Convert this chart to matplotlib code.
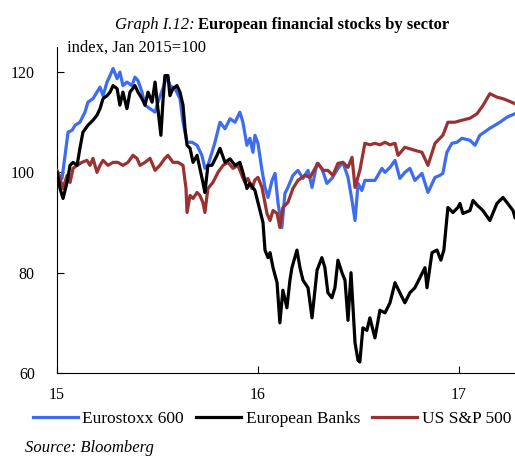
import matplotlib
matplotlib.use('Agg')
from matplotlib import pyplot as plt

plt.rcParams['font.family'] = ['Liberation Serif', 'DejaVu Serif']

# x in years (15 = Jan 2015), values index Jan 2015 = 100
euro_x = [15.000, 15.025, 15.040, 15.055, 15.075, 15.090, 15.114, 15.139, 15.154, 15.179,
          15.199, 15.214, 15.229, 15.249, 15.264, 15.279, 15.299, 15.313, 15.328, 15.348,
          15.373, 15.388, 15.403, 15.423, 15.438, 15.463, 15.488, 15.502, 15.527, 15.547,
          15.562, 15.587, 15.612, 15.627, 15.647, 15.672, 15.697, 15.721, 15.736, 15.751,
          15.771, 15.786, 15.811, 15.836, 15.861, 15.886, 15.910, 15.925, 15.945, 15.960,
          15.975, 15.985, 16.000, 16.020, 16.035, 16.050, 16.070, 16.085, 16.100, 16.119,
          16.134, 16.149, 16.174, 16.199, 16.224, 16.249, 16.269, 16.294, 16.318, 16.343,
          16.368, 16.398, 16.423, 16.448, 16.468, 16.483, 16.498, 16.517, 16.532, 16.557,
          16.582, 16.617, 16.632, 16.657, 16.682, 16.706, 16.731, 16.756, 16.781, 16.816,
          16.846, 16.881, 16.905, 16.920, 16.940, 16.965, 16.990, 17.015, 17.055, 17.080,
          17.104, 17.154, 17.204, 17.239, 17.279]
euro_y = [100.0, 98.8, 103.4, 108.0, 108.4, 109.4, 110.0, 112.0, 114.0, 114.7,
          116.0, 117.0, 115.3, 118.0, 119.3, 120.7, 118.7, 120.0, 117.3, 118.0,
          117.3, 119.0, 118.3, 116.0, 113.4, 112.7, 112.0, 114.0, 116.7, 119.3,
          117.3, 116.7, 114.7, 110.0, 106.0, 106.0, 105.4, 103.4, 100.8, 101.4,
          104.0, 106.0, 110.0, 108.7, 110.7, 110.0, 112.0, 110.0, 105.4, 106.8,
          104.0, 107.4, 105.8, 100.4, 97.0, 95.0, 98.4, 99.8, 93.8, 89.0,
          95.8, 97.0, 99.4, 100.4, 98.8, 100.4, 97.0, 101.8, 100.8, 97.8,
          98.8, 100.8, 102.0, 99.0, 94.4, 90.4, 97.8, 96.4, 98.4, 98.4,
          98.4, 100.8, 100.0, 101.0, 102.4, 98.8, 100.0, 100.8, 98.4, 99.8,
          96.0, 99.0, 99.4, 99.8, 104.0, 105.8, 106.0, 106.8, 106.4, 105.4,
          107.4, 108.8, 110.0, 111.0, 111.7]

banks_x = [15.000, 15.015, 15.030, 15.050, 15.065, 15.080, 15.100, 15.114, 15.129, 15.154,
           15.179, 15.199, 15.214, 15.229, 15.249, 15.264, 15.279, 15.299, 15.313, 15.328,
           15.348, 15.363, 15.388, 15.403, 15.423, 15.438, 15.453, 15.473, 15.488, 15.502,
           15.517, 15.527, 15.537, 15.552, 15.562, 15.577, 15.597, 15.612, 15.627, 15.637,
           15.647, 15.662, 15.677, 15.697, 15.711, 15.726, 15.736, 15.751, 15.771, 15.796,
           15.811, 15.836, 15.861, 15.886, 15.910, 15.925, 15.945, 15.960, 15.985, 16.010,
           16.025, 16.035, 16.050, 16.060, 16.075, 16.095, 16.109, 16.124, 16.144, 16.159,
           16.169, 16.194, 16.209, 16.224, 16.249, 16.269, 16.294, 16.318, 16.333, 16.348,
           16.368, 16.383, 16.398, 16.418, 16.433, 16.448, 16.463, 16.483, 16.498, 16.507,
           16.522, 16.542, 16.557, 16.582, 16.607, 16.632, 16.657, 16.682, 16.706, 16.731,
           16.756, 16.781, 16.806, 16.831, 16.841, 16.866, 16.891, 16.910, 16.925, 16.945,
           16.970, 16.995, 17.005, 17.020, 17.055, 17.070, 17.090, 17.119, 17.154, 17.189,
           17.219, 17.239, 17.269, 17.279]
banks_y = [100.0, 96.8, 94.8, 98.0, 101.4, 102.0, 101.4, 104.8, 108.0, 109.4,
           110.4, 111.4, 112.7, 114.7, 115.3, 116.0, 117.3, 116.7, 113.4, 116.0,
           112.7, 116.0, 117.3, 116.0, 114.7, 113.4, 116.0, 114.0, 118.0, 112.7,
           107.4, 114.0, 119.3, 119.3, 115.3, 116.7, 117.3, 116.0, 113.4, 108.7,
           105.4, 104.8, 102.0, 103.4, 100.8, 98.0, 96.0, 101.4, 101.4, 103.4,
           104.8, 102.0, 102.7, 101.4, 102.0, 100.0, 96.8, 97.8, 96.4, 92.4,
           90.0, 84.5, 83.0, 84.0, 81.0, 78.0, 70.0, 76.5, 73.0, 78.5,
           81.0, 84.5, 81.0, 78.5, 77.0, 71.0, 80.5, 83.0, 81.0, 76.0,
           75.0, 77.0, 82.5, 80.0, 78.5, 70.5, 80.0, 66.0, 62.5, 62.2,
           69.0, 68.5, 71.0, 67.0, 72.5, 72.0, 74.0, 78.0, 76.0, 74.0,
           76.0, 77.0, 79.0, 81.0, 77.0, 84.0, 84.5, 82.5, 84.5, 93.0,
           92.0, 93.0, 93.8, 91.8, 92.4, 94.4, 93.5, 92.4, 90.4, 93.8,
           95.0, 94.0, 92.4, 91.0]

sp_x = [15.000, 15.015, 15.030, 15.050, 15.065, 15.080, 15.100, 15.124, 15.149, 15.164,
        15.179, 15.199, 15.214, 15.229, 15.254, 15.279, 15.303, 15.328, 15.353, 15.378,
        15.398, 15.413, 15.438, 15.463, 15.488, 15.512, 15.537, 15.552, 15.577, 15.602,
        15.627, 15.642, 15.647, 15.662, 15.677, 15.697, 15.711, 15.726, 15.736, 15.751,
        15.776, 15.801, 15.826, 15.851, 15.876, 15.900, 15.920, 15.935, 15.950, 15.970,
        15.985, 16.000, 16.020, 16.045, 16.060, 16.075, 16.095, 16.109, 16.124, 16.149,
        16.174, 16.199, 16.234, 16.259, 16.284, 16.299, 16.323, 16.348, 16.373, 16.398,
        16.423, 16.448, 16.468, 16.483, 16.507, 16.532, 16.557, 16.582, 16.607, 16.632,
        16.657, 16.682, 16.697, 16.731, 16.781, 16.816, 16.846, 16.881, 16.920, 16.945,
        16.980, 17.015, 17.055, 17.090, 17.119, 17.154, 17.189, 17.219, 17.244, 17.279]
sp_y = [100.4, 98.8, 96.8, 99.4, 98.0, 100.8, 101.4, 102.0, 102.4, 101.4,
        102.8, 100.0, 101.4, 102.4, 101.4, 102.0, 102.0, 101.4, 102.0, 103.4,
        102.8, 101.4, 102.0, 102.8, 100.4, 101.4, 102.8, 103.4, 102.0, 102.0,
        101.4, 96.8, 92.0, 95.4, 94.8, 96.0, 95.4, 94.0, 92.0, 96.8,
        98.0, 100.0, 101.4, 102.0, 100.8, 101.4, 99.4, 98.0, 98.8, 96.8,
        98.5, 99.0, 97.0, 91.8, 90.4, 92.4, 91.8, 89.0, 93.0, 94.0,
        96.8, 98.4, 99.4, 99.0, 100.8, 101.8, 100.4, 100.4, 99.4, 101.8,
        102.0, 101.0, 103.0, 97.0, 100.4, 105.8, 105.5, 105.8, 105.5, 106.0,
        105.5, 105.8, 103.4, 105.0, 104.4, 104.0, 101.4, 105.8, 107.4, 110.0,
        110.0, 110.4, 110.8, 111.7, 113.3, 115.7, 115.0, 114.7, 114.3, 113.7]

yticks = [60, 80, 100, 120]
xticks = [15, 16, 17]

fig = plt.figure(figsize=(5.15, 4.57), dpi=100)
ax = fig.add_axes([57 / 515, 1 - 373 / 457, 458 / 515, 326 / 457])

ax.plot(euro_x, euro_y, color='#3d6cf0', lw=2.3, label='Eurostoxx 600', zorder=2)
ax.plot(banks_x, banks_y, color='black', lw=2.3, label='European Banks', zorder=4)
ax.plot(sp_x, sp_y, color='#9a3232', lw=2.3, label='US S&P 500', zorder=3)

ax.set_xlim(15, 17.279)
ax.set_ylim(60, 125)
ax.set_yticks(yticks)
ax.set_xticks(xticks)
ax.set_xticklabels([str(t) for t in xticks])
ax.spines['top'].set_visible(False)
ax.spines['right'].set_visible(False)
ax.tick_params(axis='y', direction='in', length=5, pad=16, labelsize=11.5)
ax.tick_params(axis='x', direction='in', length=5, pad=10, labelsize=11.5)

fig.text(195 / 515, 1 - 29 / 457, 'Graph I.12:', style='italic', ha='right',
         va='baseline', fontsize=12)
fig.text(198 / 515, 1 - 29 / 457, 'European financial stocks by sector',
         weight='bold', ha='left', va='baseline', fontsize=12)
fig.text(67 / 515, 1 - 52 / 457, 'index, Jan 2015=100', ha='left',
         va='baseline', fontsize=12)

fig.legend(loc='center', bbox_to_anchor=(272 / 515, 1 - 419 / 457), ncol=3,
           frameon=False, fontsize=12.5, handlelength=2.6, handletextpad=0.25,
           columnspacing=0.7, borderaxespad=0, borderpad=0)

fig.text(25 / 515, 1 - 440 / 457, 'Source: Bloomberg', style='italic',
         ha='left', va='top', fontsize=12)

fig.savefig('out.png', dpi=100)
